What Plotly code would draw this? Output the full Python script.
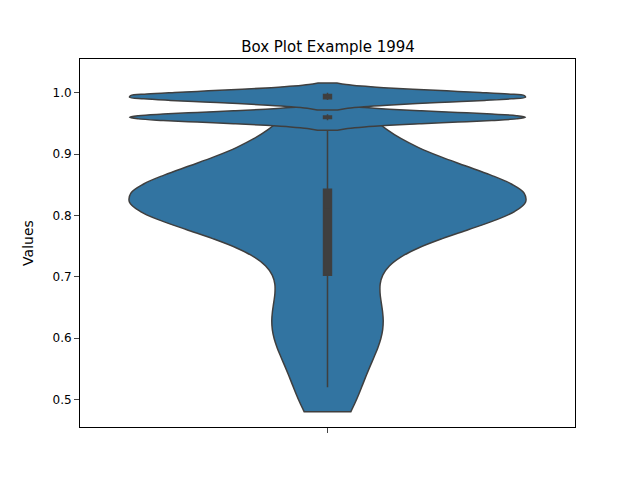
import plotly.graph_objects as go

# main body of the distribution
main_values = [0.48, 0.52, 0.56, 0.59, 0.61, 0.63, 0.65, 0.68, 0.71, 0.74, 0.77,
               0.79, 0.79, 0.80, 0.80, 0.81, 0.81, 0.82, 0.82, 0.83, 0.83, 0.84, 0.84,
               0.84, 0.84, 0.85, 0.86, 0.87, 0.88, 0.90, 0.92, 0.95, 0.97]
# two narrow clusters near the top
cluster_96 = [0.955, 0.958, 0.96, 0.96, 0.962, 0.965]
cluster_99 = [0.988, 0.99, 0.993, 0.995, 0.997, 1.0]

fill = "#3274a1"
edge = "#3f3f3f"

fig = go.Figure()
for vals, bw, span in [(main_values, 0.045, "hard"), (cluster_96, 0.008, "soft"), (cluster_99, 0.008, "soft")]:
    fig.add_trace(go.Violin(
        y=vals, x0=" ", bandwidth=bw, points=False, spanmode=span,
        fillcolor=fill, line=dict(color=edge, width=1.5), opacity=1,
        box=dict(visible=True, width=0.02, fillcolor=edge, line=dict(color=edge)),
        meanline=dict(visible=False), width=0.8, scalemode="width",
        showlegend=False, hoverinfo="y"))

fig.update_layout(
    width=640, height=480, violinmode="overlay",
    title=dict(text="Box Plot Example 1994", x=0.5, y=0.93, xanchor="center",
               font=dict(size=15, color="black")),
    font=dict(family="DejaVu Sans", size=12, color="black"),
    paper_bgcolor="white", plot_bgcolor="white",
    margin=dict(l=72, r=73, t=51, b=61),
)
fig.update_yaxes(title_text="Values", range=[0.455, 1.055], dtick=0.1, tickformat=".1f",
                 showgrid=False, zeroline=False, showline=True, mirror=True,
                 linecolor="black", ticks="outside")
fig.update_xaxes(showgrid=False, showline=True, mirror=True, linecolor="black",
                 ticks="outside", range=[-0.5, 0.5])
fig.write_html("out.html")
